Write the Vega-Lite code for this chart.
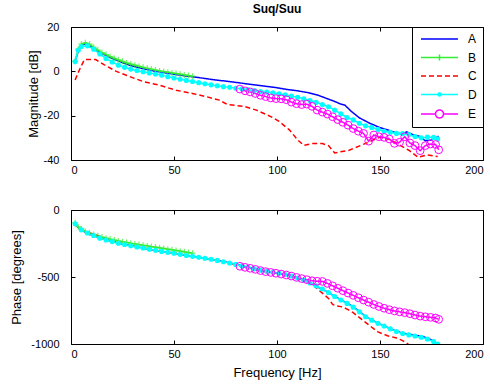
{
  "$schema": "https://vega.github.io/schema/vega-lite/v6.json",
  "padding": {"left": 10, "top": 2, "right": 0, "bottom": 0},
  "background": "white",
  "config": {
    "font": "Liberation Sans",
    "view": {"stroke": "black", "strokeWidth": 1},
    "axis": {"grid": false, "domain": false, "tickColor": "black", "tickSize": -4, "labelPadding": 8, "labelFontSize": 11, "labelColor": "black", "titleFontSize": 13, "titleFontWeight": "normal", "titleColor": "black", "labelFont": "Liberation Sans", "titleFont": "Liberation Sans", "labelExpr": "'' + datum.value"},
    "axisY": {"labelPadding": 16},
    "legend": {"labelFont": "Liberation Sans"}
  },
  "datasets": {
    "mag": [
      {"s":"A","f":2,"v":4.5},{"s":"A","f":4,"v":10.5},{"s":"A","f":6,"v":12.2},{"s":"A","f":8,"v":12.2},{"s":"A","f":10,"v":11.0},{"s":"A","f":13,"v":9.2},{"s":"A","f":16,"v":7.6},{"s":"A","f":20,"v":5.8},{"s":"A","f":24,"v":4.3},{"s":"A","f":28,"v":2.9},{"s":"A","f":32,"v":1.9},{"s":"A","f":36,"v":1.0},{"s":"A","f":40,"v":0.2},{"s":"A","f":44,"v":-0.4},{"s":"A","f":48,"v":-1.0},{"s":"A","f":52,"v":-1.6},{"s":"A","f":56,"v":-2.1},{"s":"A","f":60,"v":-2.6},{"s":"A","f":65,"v":-3.2},{"s":"A","f":70,"v":-3.9},{"s":"A","f":75,"v":-4.4},{"s":"A","f":80,"v":-5.0},{"s":"A","f":85,"v":-5.6},{"s":"A","f":90,"v":-6.2},{"s":"A","f":95,"v":-6.8},{"s":"A","f":100,"v":-7.4},{"s":"A","f":105,"v":-8.2},{"s":"A","f":110,"v":-8.8},{"s":"A","f":115,"v":-9.6},{"s":"A","f":120,"v":-10.8},{"s":"A","f":124,"v":-12.2},{"s":"A","f":128,"v":-13.6},{"s":"A","f":131,"v":-14.8},{"s":"A","f":133,"v":-15.3},{"s":"A","f":136,"v":-18.0},{"s":"A","f":140,"v":-21.0},{"s":"A","f":145,"v":-23.4},{"s":"A","f":150,"v":-25.4},{"s":"A","f":154,"v":-26.5},{"s":"A","f":158,"v":-27.8},{"s":"A","f":161,"v":-28.3},{"s":"A","f":163,"v":-27.3},{"s":"A","f":166,"v":-28.6},{"s":"A","f":169,"v":-29.3},{"s":"A","f":172,"v":-31.3},{"s":"A","f":175,"v":-31.0},{"s":"A","f":178.5,"v":-29.3},
      {"s":"B","f":2,"v":4.5},{"s":"B","f":3.5,"v":10.0},{"s":"B","f":5,"v":12.3},{"s":"B","f":7,"v":12.9},{"s":"B","f":9,"v":12.3},{"s":"B","f":11,"v":10.9},{"s":"B","f":13,"v":9.6},{"s":"B","f":15,"v":8.5},{"s":"B","f":17,"v":7.6},{"s":"B","f":19,"v":6.7},{"s":"B","f":21,"v":5.9},{"s":"B","f":23,"v":5.2},{"s":"B","f":25,"v":4.5},{"s":"B","f":27,"v":3.8},{"s":"B","f":29,"v":3.3},{"s":"B","f":31,"v":2.8},{"s":"B","f":33,"v":2.3},{"s":"B","f":35,"v":1.8},{"s":"B","f":37,"v":1.4},{"s":"B","f":39,"v":1.0},{"s":"B","f":41,"v":0.6},{"s":"B","f":43,"v":0.2},{"s":"B","f":45,"v":-0.1},{"s":"B","f":47,"v":-0.4},{"s":"B","f":49,"v":-0.7},{"s":"B","f":51,"v":-1.0},{"s":"B","f":53,"v":-1.3},{"s":"B","f":55,"v":-1.6},{"s":"B","f":57,"v":-1.9},{"s":"B","f":59,"v":-2.2},
      {"s":"C","f":2,"v":-3.9},{"s":"C","f":4,"v":0.5},{"s":"C","f":6.5,"v":5.3},{"s":"C","f":12,"v":5.3},{"s":"C","f":16,"v":3.0},{"s":"C","f":22,"v":0.0},{"s":"C","f":28,"v":-2.2},{"s":"C","f":35,"v":-4.6},{"s":"C","f":43,"v":-6.3},{"s":"C","f":51,"v":-8.5},{"s":"C","f":60,"v":-10.2},{"s":"C","f":66,"v":-11.5},{"s":"C","f":72,"v":-13.0},{"s":"C","f":76,"v":-15.0},{"s":"C","f":84,"v":-15.8},{"s":"C","f":90,"v":-17.5},{"s":"C","f":97,"v":-20.4},{"s":"C","f":101,"v":-22.6},{"s":"C","f":106,"v":-26.4},{"s":"C","f":110,"v":-30.9},{"s":"C","f":113,"v":-33.4},{"s":"C","f":117,"v":-32.6},{"s":"C","f":122,"v":-32.6},{"s":"C","f":125,"v":-33.5},{"s":"C","f":128,"v":-36.8},{"s":"C","f":135,"v":-35.6},{"s":"C","f":143,"v":-32.5},{"s":"C","f":150,"v":-29.7},{"s":"C","f":155,"v":-30.8},{"s":"C","f":160,"v":-33.5},{"s":"C","f":164,"v":-35.6},{"s":"C","f":168.5,"v":-38.8},{"s":"C","f":173,"v":-37.7},{"s":"C","f":178,"v":-38.4},
      {"s":"D","f":2,"v":4.4},{"s":"D","f":3.5,"v":9.5},{"s":"D","f":5,"v":11.2},{"s":"D","f":8,"v":11.5},{"s":"D","f":11,"v":10.0},{"s":"D","f":14,"v":7.8},{"s":"D","f":17,"v":5.8},{"s":"D","f":20,"v":4.2},{"s":"D","f":23,"v":2.8},{"s":"D","f":26,"v":1.8},{"s":"D","f":29,"v":1.0},{"s":"D","f":32,"v":0.4},{"s":"D","f":35,"v":-0.2},{"s":"D","f":38,"v":-0.7},{"s":"D","f":41,"v":-1.2},{"s":"D","f":44,"v":-1.7},{"s":"D","f":47,"v":-2.4},{"s":"D","f":50,"v":-3.0},{"s":"D","f":53,"v":-3.6},{"s":"D","f":56,"v":-4.1},{"s":"D","f":59,"v":-4.6},{"s":"D","f":62,"v":-5.1},{"s":"D","f":65,"v":-5.6},{"s":"D","f":68,"v":-6.1},{"s":"D","f":71,"v":-6.5},{"s":"D","f":74,"v":-6.9},{"s":"D","f":77,"v":-7.2},{"s":"D","f":80,"v":-7.6},{"s":"D","f":83,"v":-7.9},{"s":"D","f":86,"v":-8.3},{"s":"D","f":89,"v":-8.7},{"s":"D","f":92,"v":-9.1},{"s":"D","f":95,"v":-9.4},{"s":"D","f":98,"v":-9.7},{"s":"D","f":101,"v":-10.1},{"s":"D","f":104,"v":-10.6},{"s":"D","f":107,"v":-11.2},{"s":"D","f":110,"v":-11.7},{"s":"D","f":113,"v":-12.4},{"s":"D","f":116,"v":-13.2},{"s":"D","f":119,"v":-14.0},{"s":"D","f":122,"v":-15.0},{"s":"D","f":125,"v":-16.0},{"s":"D","f":128,"v":-17.5},{"s":"D","f":131,"v":-19.2},{"s":"D","f":134,"v":-20.8},{"s":"D","f":137,"v":-21.9},{"s":"D","f":140,"v":-23.4},{"s":"D","f":143,"v":-24.6},{"s":"D","f":146,"v":-25.3},{"s":"D","f":149,"v":-26.2},{"s":"D","f":152,"v":-27.0},{"s":"D","f":155,"v":-27.5},{"s":"D","f":158,"v":-28.0},{"s":"D","f":161,"v":-28.1},{"s":"D","f":164,"v":-28.5},{"s":"D","f":167,"v":-29.4},{"s":"D","f":170,"v":-30.0},{"s":"D","f":173,"v":-29.7},{"s":"D","f":176,"v":-29.8},{"s":"D","f":178,"v":-30.4},
      {"s":"E","f":82,"v":-8.0},{"s":"E","f":84.5,"v":-8.8},{"s":"E","f":87,"v":-9.3},{"s":"E","f":89.5,"v":-10.0},{"s":"E","f":92,"v":-10.8},{"s":"E","f":94.5,"v":-11.4},{"s":"E","f":97,"v":-12.0},{"s":"E","f":99.5,"v":-12.3},{"s":"E","f":102,"v":-12.4},{"s":"E","f":104.5,"v":-12.8},{"s":"E","f":107,"v":-13.9},{"s":"E","f":109.5,"v":-14.6},{"s":"E","f":112,"v":-15.0},{"s":"E","f":114.5,"v":-14.8},{"s":"E","f":117,"v":-15.8},{"s":"E","f":119.5,"v":-17.5},{"s":"E","f":122,"v":-18.4},{"s":"E","f":124.5,"v":-19.3},{"s":"E","f":127,"v":-20.5},{"s":"E","f":129.5,"v":-21.8},{"s":"E","f":132,"v":-23.0},{"s":"E","f":134.5,"v":-24.3},{"s":"E","f":137,"v":-25.8},{"s":"E","f":139.5,"v":-27.0},{"s":"E","f":142,"v":-28.0},{"s":"E","f":144.5,"v":-31.5},{"s":"E","f":147,"v":-28.7},{"s":"E","f":149.5,"v":-29.5},{"s":"E","f":152,"v":-29.8},{"s":"E","f":154.5,"v":-30.5},{"s":"E","f":157,"v":-32.5},{"s":"E","f":159.5,"v":-32.0},{"s":"E","f":162,"v":-29.5},{"s":"E","f":164.5,"v":-32.3},{"s":"E","f":167,"v":-33.5},{"s":"E","f":169.5,"v":-35.8},{"s":"E","f":172,"v":-33.5},{"s":"E","f":174.5,"v":-32.8},{"s":"E","f":177,"v":-33.0},{"s":"E","f":178.5,"v":-35.4}
    ],
    "ph": [
      {"s":"A","f":2,"v":-105},{"s":"A","f":5,"v":-150},{"s":"A","f":8,"v":-175},{"s":"A","f":11,"v":-192},{"s":"A","f":14,"v":-208},{"s":"A","f":17,"v":-222},{"s":"A","f":20,"v":-235},{"s":"A","f":23,"v":-248},{"s":"A","f":26,"v":-258},{"s":"A","f":29,"v":-266},{"s":"A","f":32,"v":-275},{"s":"A","f":35,"v":-283},{"s":"A","f":38,"v":-292},{"s":"A","f":41,"v":-300},{"s":"A","f":44,"v":-308},{"s":"A","f":47,"v":-315},{"s":"A","f":50,"v":-322},{"s":"A","f":53,"v":-330},{"s":"A","f":56,"v":-338},{"s":"A","f":59,"v":-345},{"s":"A","f":62,"v":-352},{"s":"A","f":65,"v":-359},{"s":"A","f":68,"v":-367},{"s":"A","f":71,"v":-375},{"s":"A","f":74,"v":-385},{"s":"A","f":77,"v":-395},{"s":"A","f":80,"v":-405},{"s":"A","f":83,"v":-416},{"s":"A","f":86,"v":-428},{"s":"A","f":89,"v":-440},{"s":"A","f":92,"v":-450},{"s":"A","f":95,"v":-458},{"s":"A","f":98,"v":-466},{"s":"A","f":101,"v":-472},{"s":"A","f":104,"v":-480},{"s":"A","f":107,"v":-492},{"s":"A","f":110,"v":-508},{"s":"A","f":113,"v":-525},{"s":"A","f":116,"v":-545},{"s":"A","f":119,"v":-568},{"s":"A","f":122,"v":-592},{"s":"A","f":125,"v":-615},{"s":"A","f":128,"v":-645},{"s":"A","f":131,"v":-670},{"s":"A","f":134,"v":-695},{"s":"A","f":137,"v":-722},{"s":"A","f":140,"v":-757},{"s":"A","f":143,"v":-795},{"s":"A","f":146,"v":-820},{"s":"A","f":149,"v":-845},{"s":"A","f":152,"v":-865},{"s":"A","f":155,"v":-885},{"s":"A","f":158,"v":-905},{"s":"A","f":161,"v":-920},{"s":"A","f":164,"v":-928},{"s":"A","f":167,"v":-935},{"s":"A","f":170,"v":-942},{"s":"A","f":173,"v":-955},{"s":"A","f":176,"v":-978},{"s":"A","f":178,"v":-1000},
      {"s":"B","f":2,"v":-95},{"s":"B","f":3.5,"v":-125},{"s":"B","f":5,"v":-140},{"s":"B","f":7,"v":-160},{"s":"B","f":9,"v":-172},{"s":"B","f":11,"v":-183},{"s":"B","f":13,"v":-193},{"s":"B","f":15,"v":-202},{"s":"B","f":17,"v":-210},{"s":"B","f":19,"v":-217},{"s":"B","f":21,"v":-224},{"s":"B","f":23,"v":-231},{"s":"B","f":25,"v":-237},{"s":"B","f":27,"v":-242},{"s":"B","f":29,"v":-248},{"s":"B","f":31,"v":-253},{"s":"B","f":33,"v":-258},{"s":"B","f":35,"v":-263},{"s":"B","f":37,"v":-268},{"s":"B","f":39,"v":-273},{"s":"B","f":41,"v":-277},{"s":"B","f":43,"v":-282},{"s":"B","f":45,"v":-287},{"s":"B","f":47,"v":-292},{"s":"B","f":49,"v":-297},{"s":"B","f":51,"v":-302},{"s":"B","f":53,"v":-307},{"s":"B","f":55,"v":-312},{"s":"B","f":57,"v":-317},{"s":"B","f":59,"v":-322},
      {"s":"C","f":2,"v":-110},{"s":"C","f":5,"v":-150},{"s":"C","f":8,"v":-168},{"s":"C","f":12,"v":-185},{"s":"C","f":16,"v":-210},{"s":"C","f":20,"v":-232},{"s":"C","f":25,"v":-252},{"s":"C","f":30,"v":-268},{"s":"C","f":35,"v":-283},{"s":"C","f":40,"v":-298},{"s":"C","f":45,"v":-311},{"s":"C","f":50,"v":-323},{"s":"C","f":55,"v":-336},{"s":"C","f":60,"v":-348},{"s":"C","f":65,"v":-360},{"s":"C","f":70,"v":-373},{"s":"C","f":75,"v":-388},{"s":"C","f":80,"v":-410},{"s":"C","f":85,"v":-425},{"s":"C","f":90,"v":-445},{"s":"C","f":95,"v":-457},{"s":"C","f":100,"v":-470},{"s":"C","f":105,"v":-485},{"s":"C","f":110,"v":-508},{"s":"C","f":114,"v":-528},{"s":"C","f":117,"v":-550},{"s":"C","f":119,"v":-580},{"s":"C","f":122,"v":-620},{"s":"C","f":125,"v":-660},{"s":"C","f":127,"v":-705},{"s":"C","f":129,"v":-716},{"s":"C","f":132,"v":-724},{"s":"C","f":134,"v":-740},{"s":"C","f":137,"v":-766},{"s":"C","f":141,"v":-815},{"s":"C","f":145,"v":-863},{"s":"C","f":149,"v":-910},{"s":"C","f":153.6,"v":-938},{"s":"C","f":158,"v":-955},{"s":"C","f":161,"v":-975},{"s":"C","f":163.6,"v":-1000},{"s":"C","f":166,"v":-1040},
      {"s":"D","f":2,"v":-103},{"s":"D","f":5,"v":-148},{"s":"D","f":8,"v":-172},{"s":"D","f":11,"v":-190},{"s":"D","f":14,"v":-210},{"s":"D","f":17,"v":-224},{"s":"D","f":20,"v":-236},{"s":"D","f":23,"v":-248},{"s":"D","f":26,"v":-258},{"s":"D","f":29,"v":-267},{"s":"D","f":32,"v":-276},{"s":"D","f":35,"v":-284},{"s":"D","f":38,"v":-293},{"s":"D","f":41,"v":-301},{"s":"D","f":44,"v":-309},{"s":"D","f":47,"v":-316},{"s":"D","f":50,"v":-323},{"s":"D","f":53,"v":-331},{"s":"D","f":56,"v":-339},{"s":"D","f":59,"v":-346},{"s":"D","f":62,"v":-353},{"s":"D","f":65,"v":-360},{"s":"D","f":68,"v":-368},{"s":"D","f":71,"v":-376},{"s":"D","f":74,"v":-386},{"s":"D","f":77,"v":-396},{"s":"D","f":80,"v":-406},{"s":"D","f":83,"v":-417},{"s":"D","f":86,"v":-428},{"s":"D","f":89,"v":-439},{"s":"D","f":92,"v":-449},{"s":"D","f":95,"v":-457},{"s":"D","f":98,"v":-465},{"s":"D","f":101,"v":-472},{"s":"D","f":104,"v":-481},{"s":"D","f":107,"v":-493},{"s":"D","f":110,"v":-507},{"s":"D","f":113,"v":-524},{"s":"D","f":116,"v":-544},{"s":"D","f":119,"v":-566},{"s":"D","f":122,"v":-590},{"s":"D","f":125,"v":-616},{"s":"D","f":128,"v":-646},{"s":"D","f":131,"v":-672},{"s":"D","f":134,"v":-697},{"s":"D","f":137,"v":-725},{"s":"D","f":140,"v":-760},{"s":"D","f":143,"v":-797},{"s":"D","f":146,"v":-822},{"s":"D","f":149,"v":-846},{"s":"D","f":152,"v":-866},{"s":"D","f":155,"v":-887},{"s":"D","f":158,"v":-907},{"s":"D","f":161,"v":-922},{"s":"D","f":164,"v":-932},{"s":"D","f":167,"v":-940},{"s":"D","f":170,"v":-950},{"s":"D","f":173,"v":-963},{"s":"D","f":176,"v":-982},{"s":"D","f":178,"v":-1000},
      {"s":"E","f":82,"v":-420},{"s":"E","f":84.5,"v":-428},{"s":"E","f":87,"v":-435},{"s":"E","f":89.5,"v":-443},{"s":"E","f":92,"v":-452},{"s":"E","f":94.5,"v":-460},{"s":"E","f":97,"v":-466},{"s":"E","f":99.5,"v":-472},{"s":"E","f":102,"v":-478},{"s":"E","f":104.5,"v":-485},{"s":"E","f":107,"v":-493},{"s":"E","f":109.5,"v":-503},{"s":"E","f":112,"v":-512},{"s":"E","f":114.5,"v":-520},{"s":"E","f":117,"v":-528},{"s":"E","f":119.5,"v":-532},{"s":"E","f":122,"v":-533},{"s":"E","f":124.5,"v":-548},{"s":"E","f":127,"v":-566},{"s":"E","f":129.5,"v":-584},{"s":"E","f":132,"v":-602},{"s":"E","f":134.5,"v":-620},{"s":"E","f":137,"v":-637},{"s":"E","f":139.5,"v":-655},{"s":"E","f":142,"v":-672},{"s":"E","f":144.5,"v":-688},{"s":"E","f":147,"v":-705},{"s":"E","f":149.5,"v":-720},{"s":"E","f":152,"v":-733},{"s":"E","f":154.5,"v":-744},{"s":"E","f":157,"v":-753},{"s":"E","f":159.5,"v":-760},{"s":"E","f":162,"v":-766},{"s":"E","f":164.5,"v":-774},{"s":"E","f":167,"v":-784},{"s":"E","f":169.5,"v":-792},{"s":"E","f":172,"v":-797},{"s":"E","f":174.5,"v":-801},{"s":"E","f":177,"v":-806},{"s":"E","f":178.5,"v":-816}
    ]
  },
  "spacing": 27,
  "vconcat": [
    {
      "width": 412,
      "height": 133,
      "title": {"text": "Suq/Suu", "fontSize": 12, "fontWeight": "bold", "font": "Liberation Sans", "offset": 5, "color": "black"},
      "data": {"name": "mag"},
      "resolve": {"axis": {"x": "independent", "y": "independent"}},
      "layer": [
        {
          "mark": {"type": "line", "strokeWidth": 1.5, "clip": true},
          "encoding": {
            "x": {"field": "f", "type": "quantitative", "scale": {"domain": [0, 200], "nice": false}, "axis": {"values": [0, 50, 100, 150, 200], "title": null}},
            "y": {"field": "v", "type": "quantitative", "scale": {"domain": [-40, 20], "nice": false, "zero": false}, "axis": {"values": [-40, -20, 0, 20], "title": "Magnitude [dB]", "titlePadding": 3}},
            "color": {"field": "s", "type": "nominal", "scale": {"domain": ["A", "B", "C", "D", "E"], "range": ["#0000ff", "#33ee33", "#ff0000", "#00ffff", "#ff00ff"]},
              "legend": {"title": null, "orient": "top-right", "offset": 0, "fillColor": "white", "strokeColor": "black", "padding": 6, "labelFontSize": 12, "labelOffset": 38, "rowPadding": 6.5, "symbolSize": 36, "symbolStrokeWidth": 1.5,
                "encode": {"symbols": {"update": {"shape": {"signal": "datum.value === 'B' ? 'M-1,0H11.33M5.17,-1V1' : datum.value === 'D' ? 'M-1,0H11.33M5.67,0A0.5,0.5,0,1,1,4.67,0A0.5,0.5,0,1,1,5.67,0' : datum.value === 'E' ? 'M-1,0H3.84M6.5,0H11.33M6.5,0A1.33,1.33,0,1,1,3.84,0A1.33,1.33,0,1,1,6.5,0' : 'M-1,0H11.33'"}}}}}},
            "strokeDash": {"field": "s", "type": "nominal", "scale": {"domain": ["A", "B", "C", "D", "E"], "range": [[1, 0], [1, 0], [5, 3], [1, 0], [1, 0]]}, "legend": null}
          }
        },
        {
          "transform": [{"filter": "datum.s === 'B'"}],
          "mark": {"type": "point", "shape": "M-1,0H1M0,-1V1", "size": 36, "filled": false, "strokeWidth": 1.2, "color": "#33ee33", "clip": true},
          "encoding": {
            "x": {"field": "f", "type": "quantitative", "axis": {"orient": "top", "values": [0, 50, 100, 150, 200], "labels": false, "title": null}},
            "y": {"field": "v", "type": "quantitative", "axis": {"orient": "right", "values": [-40, -20, 0, 20], "labels": false, "title": null}}
          }
        },
        {
          "transform": [{"filter": "datum.s === 'D'"}],
          "mark": {"type": "circle", "size": 26, "opacity": 1, "color": "#00ffff", "clip": true},
          "encoding": {"x": {"field": "f", "type": "quantitative", "axis": null}, "y": {"field": "v", "type": "quantitative", "axis": null}}
        },
        {
          "transform": [{"filter": "datum.s === 'E'"}],
          "mark": {"type": "point", "shape": "circle", "size": 60, "filled": false, "strokeWidth": 1, "opacity": 1, "color": "#ff00ff", "clip": true},
          "encoding": {"x": {"field": "f", "type": "quantitative", "axis": null}, "y": {"field": "v", "type": "quantitative", "axis": null}}
        }
      ]
    },
    {
      "width": 412,
      "height": 134,
      "data": {"name": "ph"},
      "resolve": {"axis": {"x": "independent", "y": "independent"}},
      "layer": [
        {
          "mark": {"type": "line", "strokeWidth": 1.5, "clip": true},
          "encoding": {
            "x": {"field": "f", "type": "quantitative", "scale": {"domain": [0, 200], "nice": false}, "axis": {"values": [0, 50, 100, 150, 200], "title": "Frequency [Hz]", "titlePadding": 7}},
            "y": {"field": "v", "type": "quantitative", "scale": {"domain": [-1000, 0], "nice": false}, "axis": {"values": [-1000, -500, 0], "title": "Phase [degrees]", "titlePadding": 7}},
            "color": {"field": "s", "type": "nominal", "scale": {"domain": ["A", "B", "C", "D", "E"], "range": ["#0000ff", "#33ee33", "#ff0000", "#00ffff", "#ff00ff"]}, "legend": null},
            "strokeDash": {"field": "s", "type": "nominal", "scale": {"domain": ["A", "B", "C", "D", "E"], "range": [[1, 0], [1, 0], [5, 3], [1, 0], [1, 0]]}, "legend": null}
          }
        },
        {
          "transform": [{"filter": "datum.s === 'B'"}],
          "mark": {"type": "point", "shape": "M-1,0H1M0,-1V1", "size": 36, "filled": false, "strokeWidth": 1.2, "color": "#33ee33", "clip": true},
          "encoding": {
            "x": {"field": "f", "type": "quantitative", "axis": {"orient": "top", "values": [0, 50, 100, 150, 200], "labels": false, "title": null}},
            "y": {"field": "v", "type": "quantitative", "axis": {"orient": "right", "values": [-1000, -500, 0], "labels": false, "title": null}}
          }
        },
        {
          "transform": [{"filter": "datum.s === 'D'"}],
          "mark": {"type": "circle", "size": 26, "opacity": 1, "color": "#00ffff", "clip": true},
          "encoding": {"x": {"field": "f", "type": "quantitative", "axis": null}, "y": {"field": "v", "type": "quantitative", "axis": null}}
        },
        {
          "transform": [{"filter": "datum.s === 'E'"}],
          "mark": {"type": "point", "shape": "circle", "size": 60, "filled": false, "strokeWidth": 1, "opacity": 1, "color": "#ff00ff", "clip": true},
          "encoding": {"x": {"field": "f", "type": "quantitative", "axis": null}, "y": {"field": "v", "type": "quantitative", "axis": null}}
        }
      ]
    }
  ]
}
